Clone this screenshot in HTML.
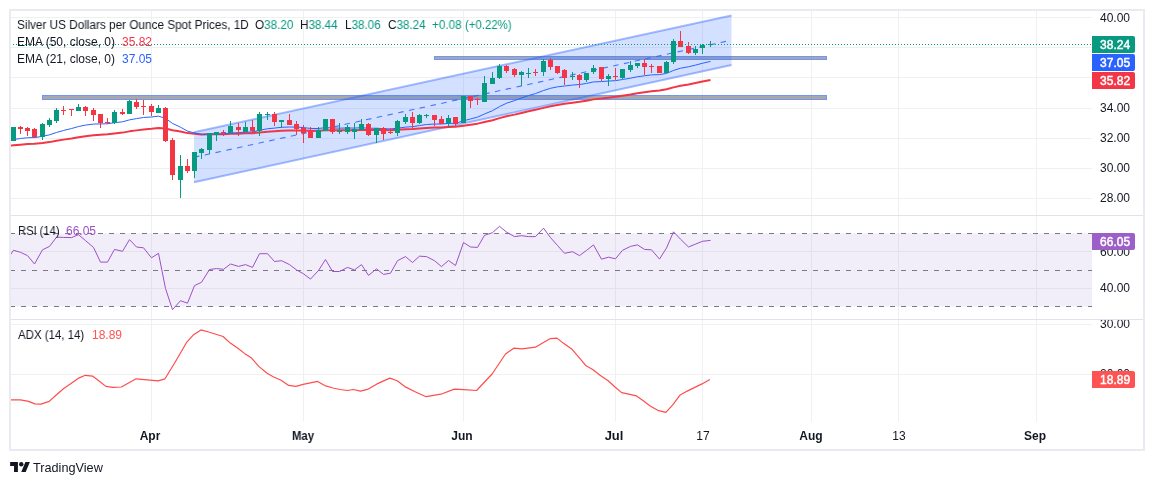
<!DOCTYPE html>
<html><head><meta charset="utf-8">
<style>
html,body{margin:0;padding:0;background:#fff;width:1154px;height:485px;overflow:hidden;}
body{position:relative;-webkit-font-smoothing:antialiased;font-family:"Liberation Sans",sans-serif;color:#131722;}
svg{position:absolute;left:0;top:0;}
.t{position:absolute;will-change:transform;white-space:nowrap;font-size:12px;line-height:14px;}
.ax{position:absolute;will-change:transform;white-space:nowrap;font-size:12px;line-height:14px;left:1100px;}
.lb{position:absolute;will-change:transform;left:1092px;width:42.5px;color:#fff;font-weight:normal;-webkit-text-stroke:0.45px #fff;font-size:12px;text-align:right;}
.tm{position:absolute;will-change:transform;top:429px;font-size:12px;line-height:14px;white-space:nowrap;transform:translateX(-50%);}
</style></head><body>
<svg width="1154" height="485" viewBox="0 0 1154 485">
<path d="M151.5 10V421.5 M303.5 10V421.5 M463.5 10V421.5 M615.5 10V421.5 M702.5 10V421.5 M811.5 10V421.5 M898.5 10V421.5 M1036.5 10V421.5 M10 17.5H1092 M10 47.5H1092 M10 77.5H1092 M10 108.5H1092 M10 138.5H1092 M10 168.5H1092 M10 198.5H1092 M10 251.5H1092 M10 288.5H1092 M10 324.5H1092 M10 374.5H1092" stroke="#eff1f1" stroke-width="1" fill="none"/>
<rect x="10" y="233.5" width="1082" height="73" fill="#7e57c2" fill-opacity="0.1"/>
<path d="M10 233.5H1092" stroke="#787b86" stroke-width="1" stroke-dasharray="5 6"/>
<path d="M10 270.5H1092" stroke="#787b86" stroke-width="1" stroke-dasharray="5 6"/>
<path d="M10 306.5H1092" stroke="#787b86" stroke-width="1" stroke-dasharray="5 6"/>
<path d="M10 215.5H1144M10 319.5H1144" stroke="#e0e3eb" stroke-width="1"/>
<defs><clipPath id="cp"><rect x="10" y="10" width="1082" height="205"/></clipPath><clipPath id="cr"><rect x="10" y="216" width="1082" height="103"/></clipPath><clipPath id="ca"><rect x="10" y="320" width="1082" height="101"/></clipPath></defs>
<g clip-path="url(#cp)">
<rect x="434.5" y="56.5" width="392" height="3" fill="#747269" fill-opacity="0.62" stroke="#6f95ff" stroke-width="1"/>
<rect x="42.5" y="95.5" width="784" height="4" fill="#747269" fill-opacity="0.62" stroke="#6f95ff" stroke-width="1"/>
<path d="M194 132.3L731.5 15.4L731.5 64.9L194 182.3Z" fill="#2962ff" fill-opacity="0.2"/>
<path d="M194 132.3L731.5 15.4M194 182.3L731.5 64.9" stroke="#2962ff" stroke-opacity="0.42" stroke-width="2" fill="none"/>
<path d="M194 157.3L726 41.34874418604652" stroke="#2962ff" stroke-opacity="0.85" stroke-width="1.1" stroke-dasharray="5.5 5.5" fill="none"/>
<polyline points="5.5,146 13.5,145.34 20.5,144.68 27.5,144.11 34.5,143.81 42.5,143.02 49.5,142.11 56.5,140.82 63.5,139.63 71.5,138.44 78.5,137.2 85.5,136.15 93.5,135.29 100.5,134.78 107.5,134.31 114.5,133.41 122.5,132.62 129.5,131.36 136.5,130.37 143.5,129.44 151.5,128.75 158.5,127.93 165.5,128.42 172.5,130.21 180.5,131.6 187.5,133.11 194.5,133.83 201.5,134.4 209.5,134.32 216.5,134.23 223.5,134.18 230.5,133.84 238.5,133.65 245.5,133.37 252.5,133.26 259.5,132.48 267.5,131.74 274.5,131.34 281.5,130.87 289.5,130.61 296.5,130.52 303.5,130.59 310.5,130.85 318.5,130.8 325.5,130.32 332.5,130.35 339.5,130.35 347.5,130.21 354.5,130.16 361.5,129.9 368.5,130.09 376.5,130 383.5,130.12 390.5,130.19 397.5,129.81 405.5,129.3 412.5,129.02 419.5,128.45 426.5,127.9 434.5,127.56 441.5,127.4 448.5,127.01 455.5,126.86 463.5,125.64 470.5,124.64 477.5,123.64 484.5,122.03 492.5,120.29 499.5,118.15 506.5,116.27 514.5,114.62 521.5,112.93 528.5,111.35 535.5,109.83 543.5,107.89 550.5,106.26 557.5,104.92 564.5,103.86 572.5,102.75 579.5,101.83 586.5,100.68 593.5,99.37 601.5,98.55 608.5,97.64 615.5,96.82 622.5,95.71 630.5,94.49 637.5,93.24 644.5,92.18 651.5,91.17 659.5,90.42 666.5,89.29 673.5,87.38 680.5,85.77 688.5,84.45 695.5,83.06 702.5,81.54 710.5,80.05" fill="none" stroke="#f23645" stroke-width="2" stroke-linejoin="round"/>
<polyline points="5.5,140.51 13.5,139.5 20.5,138.49 27.5,137.74 34.5,137.62 42.5,136.32 49.5,134.81 56.5,132.48 63.5,130.48 71.5,128.54 78.5,126.56 85.5,125.07 93.5,124.08 100.5,123.91 107.5,123.79 114.5,122.66 122.5,121.8 129.5,119.85 136.5,118.6 143.5,117.49 151.5,116.98 158.5,116.14 165.5,118.33 172.5,123.4 180.5,127.21 187.5,131.11 194.5,132.97 201.5,134.35 209.5,134.16 216.5,133.95 223.5,133.85 230.5,133.1 238.5,132.71 245.5,132.14 252.5,131.97 259.5,130.28 267.5,128.75 274.5,128.08 281.5,127.29 289.5,127.01 296.5,127.11 303.5,127.57 310.5,128.44 318.5,128.53 325.5,127.62 332.5,127.93 339.5,128.15 347.5,128.01 354.5,128.08 361.5,127.66 368.5,128.29 376.5,128.23 383.5,128.66 390.5,128.95 397.5,128.17 405.5,127.13 412.5,126.68 419.5,125.55 426.5,124.53 434.5,124.05 441.5,123.99 448.5,123.39 455.5,123.36 463.5,120.83 470.5,118.95 477.5,117.13 484.5,113.98 492.5,110.67 499.5,106.58 506.5,103.25 514.5,100.6 521.5,97.95 528.5,95.64 535.5,93.55 543.5,90.52 550.5,88.3 557.5,86.83 564.5,86.01 572.5,85.05 579.5,84.51 586.5,83.41 593.5,81.93 601.5,81.6 608.5,81.04 615.5,80.63 622.5,79.52 630.5,78.16 637.5,76.74 644.5,75.78 651.5,74.91 659.5,74.64 666.5,73.45 673.5,70.44 680.5,68.24 688.5,66.78 695.5,65.14 702.5,63.25 710.5,61.45" fill="none" stroke="#2962ff" stroke-width="1" stroke-linejoin="round"/>
<path d="M13.5 127V141 M42.5 123V140 M49.5 118V127 M56.5 108V123 M78.5 104V111 M114.5 110V124 M129.5 100V114 M158.5 105V113 M180.5 155V198 M194.5 152V178 M201.5 148V159 M209.5 133V154 M216.5 132V141 M230.5 121V133 M245.5 122V132 M259.5 112V136 M267.5 112V120 M281.5 120V128 M318.5 127V138 M325.5 119V131 M339.5 123V134 M347.5 125V134 M354.5 123V139 M361.5 119V130 M376.5 128V143 M397.5 120V136 M405.5 114V124 M419.5 114V124 M426.5 114V118 M448.5 115V127 M463.5 96V123 M484.5 76V102 M492.5 72V84 M499.5 64V79 M521.5 71V86 M528.5 68V78 M543.5 59V76 M572.5 72V80 M586.5 73V82 M593.5 65V74 M608.5 74V86 M622.5 69V79 M630.5 61V72 M637.5 63V68 M666.5 61V73 M673.5 39V64 M695.5 46V55 M702.5 44V54 M710.5 41V47" stroke="#089981" stroke-width="1"/>
<path d="M11 127h5v14h-5Z M40 124h5v13h-5Z M47 120h5v5h-5Z M54 110h5v11h-5Z M76 107h5v4h-5Z M112 112h5v11h-5Z M127 101h5v13h-5Z M156 108h5v5h-5Z M178 166h5v14h-5Z M192 152h5v19h-5Z M199 149h5v4h-5Z M207 133h5v17h-5Z M214 132h5v3h-5Z M228 126h5v7h-5Z M243 127h5v5h-5Z M257 114h5v17h-5Z M265 114h5v1h-5Z M279 120h5v2h-5Z M316 130h5v8h-5Z M323 119h5v12h-5Z M337 131h5v1h-5Z M345 127h5v5h-5Z M352 129h5v3h-5Z M359 124h5v6h-5Z M374 128h5v7h-5Z M395 121h5v12h-5Z M403 117h5v5h-5Z M417 115h5v8h-5Z M424 115h5v1h-5Z M446 118h5v5h-5Z M461 96h5v27h-5Z M482 83h5v19h-5Z M490 78h5v6h-5Z M497 66h5v12h-5Z M519 72h5v3h-5Z M526 73h5v1h-5Z M541 61h5v11h-5Z M570 76h5v1h-5Z M584 73h5v7h-5Z M591 68h5v4h-5Z M606 76h5v3h-5Z M620 69h5v9h-5Z M628 65h5v5h-5Z M635 63h5v3h-5Z M664 62h5v11h-5Z M671 41h5v21h-5Z M693 49h5v4h-5Z M700 45h5v3h-5Z M708 44h5v1h-5Z" fill="#089981"/>
<path d="M20.5 126V134 M27.5 127V136 M34.5 128V138 M63.5 106V115 M71.5 109V116 M85.5 106V116 M93.5 108V121 M100.5 114V128 M107.5 118V124 M122.5 109V115 M136.5 99V109 M143.5 100V115 M151.5 104V116 M165.5 107V142 M172.5 138V180 M187.5 159V173 M223.5 130V136 M238.5 123V136 M252.5 120V133 M274.5 112V126 M289.5 114V125 M296.5 121V135 M303.5 125V143 M310.5 127V138 M332.5 119V134 M368.5 123V136 M383.5 127V140 M390.5 128V134 M412.5 112V128 M434.5 115V126 M441.5 116V124 M455.5 117V126 M470.5 96V108 M477.5 98V105 M506.5 65V73 M514.5 68V77 M535.5 69V76 M550.5 58V70 M557.5 66V74 M564.5 69V85 M579.5 74V88 M601.5 67V81 M615.5 68V80 M644.5 59V75 M651.5 64V73 M659.5 66V73 M680.5 31V47 M688.5 42V54" stroke="#f23645" stroke-width="1"/>
<path d="M18 127h5v2h-5Z M25 128h5v3h-5Z M32 129h5v8h-5Z M61 110h5v1h-5Z M69 109h5v1h-5Z M83 107h5v4h-5Z M91 110h5v5h-5Z M98 114h5v9h-5Z M105 122h5v1h-5Z M120 112h5v2h-5Z M134 102h5v5h-5Z M141 106h5v1h-5Z M149 106h5v6h-5Z M163 108h5v33h-5Z M170 140h5v35h-5Z M185 166h5v5h-5Z M221 132h5v1h-5Z M236 127h5v3h-5Z M250 127h5v4h-5Z M272 114h5v8h-5Z M287 120h5v5h-5Z M294 124h5v5h-5Z M301 128h5v5h-5Z M308 130h5v8h-5Z M330 119h5v13h-5Z M366 124h5v11h-5Z M381 128h5v6h-5Z M388 132h5v1h-5Z M410 117h5v6h-5Z M432 115h5v5h-5Z M439 119h5v5h-5Z M453 117h5v7h-5Z M468 96h5v5h-5Z M475 99h5v1h-5Z M504 66h5v5h-5Z M512 69h5v6h-5Z M533 72h5v1h-5Z M548 60h5v7h-5Z M555 66h5v7h-5Z M562 70h5v8h-5Z M577 75h5v5h-5Z M599 67h5v12h-5Z M613 76h5v1h-5Z M642 63h5v4h-5Z M649 66h5v1h-5Z M657 66h5v7h-5Z M678 41h5v6h-5Z M686 46h5v7h-5Z" fill="#f23645"/>
<path d="M10 44.5H1092" stroke="#089981" stroke-width="1" stroke-dasharray="1 2"/>
</g>
<g clip-path="url(#cr)">
<polyline points="5.5,262 13.5,250.3 20.5,252.3 27.5,255.6 34.5,264 42.5,249.8 49.5,246.4 56.5,237.2 63.5,237.4 71.5,237.6 78.5,234.7 85.5,240.6 93.5,247.4 100.5,262.1 107.5,262.1 114.5,249.4 122.5,251.3 129.5,239.6 136.5,247 143.5,247.8 151.5,257.8 158.5,253.3 165.5,288.5 172.5,309.7 180.5,300.7 187.5,303.2 194.5,285.6 201.5,282.3 209.5,269.5 216.5,268.6 223.5,269.3 230.5,264 238.5,266.4 245.5,264.6 252.5,267.4 259.5,253.7 267.5,253.7 274.5,261.5 281.5,260.7 289.5,264.6 296.5,269.9 303.5,273.8 310.5,279.1 318.5,270.5 325.5,259.5 332.5,271.5 339.5,271.5 347.5,267.4 354.5,269.9 361.5,264.6 368.5,275.4 376.5,268.9 383.5,274.4 390.5,273.2 397.5,260.7 405.5,256.6 412.5,262.5 419.5,256.2 426.5,256.6 434.5,260.7 441.5,266.6 448.5,260.5 455.5,265.5 463.5,242.5 470.5,247 477.5,247.4 484.5,235.3 492.5,232.7 499.5,226.3 506.5,232.1 514.5,236.6 521.5,235.7 528.5,236.6 535.5,236.6 543.5,228.2 550.5,237.6 557.5,245.5 564.5,253.3 572.5,251.7 579.5,255.6 586.5,250.4 593.5,244.9 601.5,259.2 608.5,257.2 615.5,258.8 622.5,250.3 630.5,246.4 637.5,244.9 644.5,249.4 651.5,249.8 659.5,259.1 666.5,248 673.5,231.8 680.5,239.2 688.5,247 695.5,244.1 702.5,241.3 710.5,240.4" fill="none" stroke="#9c50c8" stroke-width="1" stroke-linejoin="round"/>
</g>
<g clip-path="url(#ca)">
<polyline points="6,399.8 10,399.8 20.4,399.8 28.6,401.4 34.8,403.9 41,404.1 49.2,401.4 55.4,395.7 63.7,388.5 69.9,384.3 78.1,378.4 85.3,375.3 92.5,376.1 98.7,380.8 105.9,386.4 113.2,387.4 121.4,387 127.6,383.5 136.1,378.8 158.1,380.8 165,378.8 175.7,361.2 186.4,342.7 193.2,335.1 201,329.9 208.7,332 223.1,336.5 230.3,343.1 238.2,348.5 244.4,353.4 251.6,358.1 258.8,366.4 267.1,373.2 273.2,376.7 281.1,380.2 288.7,385.4 295.9,386.4 303.1,384.3 310.4,382.9 317.6,381.4 324.8,385.6 333,388 340.2,389.5 347.5,390.5 353.3,389.5 360.5,391.1 368.3,389.1 377,383.9 389.8,378.1 397.2,380.8 404.8,386.6 415.1,391.8 426.1,396.7 440.9,394.2 454.3,389.1 464,389.7 476.6,390.5 492.1,374 505.5,354 513.7,348.2 522,348.9 535.4,347.2 542.6,343.1 550.4,338.6 557,338.1 563.2,343.1 572.1,349.3 578.3,356.7 586.1,365.8 592.7,369.5 600,375.3 608.2,380.8 615,387 621.6,392.6 628.8,394.2 636.5,395.9 643.3,400.8 650.5,406.2 658.7,410.7 665.9,412.4 672.7,404.9 679.8,395.3 687.2,391.1 694.8,387.4 702,383.9 709.9,379.4" fill="none" stroke="#ff4d4d" stroke-width="1.2" stroke-linejoin="round"/>
</g>
<rect x="10" y="10" width="1134" height="440" fill="none" stroke="#e9ebf0" stroke-width="2"/>
</svg>
<!-- legends -->
<div class="t" style="left:17px;top:18px;transform:scaleX(0.979);transform-origin:0 0">Silver US Dollars per Ounce Spot Prices, 1D</div>
<div class="t" style="left:254.5px;top:18px;transform:scaleX(0.975);transform-origin:0 0">O<span style="color:#089981">38.20</span></div>
<div class="t" style="left:299.5px;top:18px;transform:scaleX(0.975);transform-origin:0 0">H<span style="color:#089981">38.44</span></div>
<div class="t" style="left:344.5px;top:18px;transform:scaleX(0.975);transform-origin:0 0">L<span style="color:#089981">38.06</span></div>
<div class="t" style="left:387.5px;top:18px;transform:scaleX(0.975);transform-origin:0 0">C<span style="color:#089981">38.24</span></div>
<div class="t" style="left:431.5px;top:18px;color:#089981;transform:scaleX(0.975);transform-origin:0 0">+0.08</div>
<div class="t" style="left:464.5px;top:18px;color:#089981;transform:scaleX(0.95);transform-origin:0 0">(+0.22%)</div>
<div class="t" style="left:17px;top:35px">EMA (50, close, 0)</div>
<div class="t" style="left:122px;top:35px;color:#f23645">35.82</div>
<div class="t" style="left:17px;top:52px">EMA (21, close, 0)</div>
<div class="t" style="left:121.5px;top:52px;color:#2962ff">37.05</div>
<div class="t" style="left:17.5px;top:224px;transform:scaleX(0.93);transform-origin:0 0">RSI (14)</div>
<div class="t" style="left:66px;top:224px;color:#9c50c8">66.05</div>
<div class="t" style="left:18px;top:328px;transform:scaleX(0.955);transform-origin:0 0">ADX (14, 14)</div>
<div class="t" style="left:91.5px;top:328px;color:#ff5252">18.89</div>
<!-- axis -->
<div class="ax" style="top:11px">40.00</div>
<div class="ax" style="top:101px">34.00</div>
<div class="ax" style="top:131px">32.00</div>
<div class="ax" style="top:161px">30.00</div>
<div class="ax" style="top:191px">28.00</div>
<div class="ax" style="top:244.8px">60.00</div>
<div class="ax" style="top:281.3px">40.00</div>
<div style="position:absolute;left:1092px;top:320px;width:52px;height:101px;overflow:hidden"><div class="ax" style="top:-3px;left:8px">30.00</div><div class="ax" style="top:47px;left:8px">20.00</div></div>
<div class="tm" style="left:150.3px;font-weight:bold">Apr</div>
<div class="tm" style="left:302.5px;font-weight:bold;transform:translateX(-50%) scaleX(0.94)">May</div>
<div class="tm" style="left:462.1px;font-weight:bold">Jun</div>
<div class="tm" style="left:614.3px;font-weight:bold;transform:translateX(-50%) scaleX(1.08)">Jul</div>
<div class="tm" style="left:702.5px">17</div>
<div class="tm" style="left:811.2px;font-weight:bold">Aug</div>
<div class="tm" style="left:898.5px">13</div>
<div class="tm" style="left:1035.3px;font-weight:bold">Sep</div>
<!-- price labels -->
<div class="lb" style="top:36px;height:16.5px;background:#089981;border-radius:0 2px 2px 0"><span style="position:absolute;right:4.4px;top:1.5px">38.24</span></div>
<div class="lb" style="top:54px;height:16.5px;background:#2962ff;border-radius:0 2px 2px 0"><span style="position:absolute;right:4.4px;top:1.5px">37.05</span></div>
<div class="lb" style="top:72px;height:16.5px;background:#f23645;border-radius:0 2px 2px 0"><span style="position:absolute;right:4.4px;top:1.5px">35.82</span></div>
<div class="lb" style="top:233px;height:16.5px;background:#9c5fc8;border-radius:0 2px 2px 0"><span style="position:absolute;right:4.4px;top:1.5px">66.05</span></div>
<div class="lb" style="top:371px;height:16.5px;background:#ff5252;border-radius:0 2px 2px 0"><span style="position:absolute;right:4.4px;top:1.5px">18.89</span></div>
<!-- logo -->
<svg width="20" height="10" viewBox="0 4 35.5 18" style="left:10px;top:462px"><path d="M14 22H7V11H0V4h14v18zM28 22h-8l7.5-18h8L28 22z" fill="#131722"/><circle cx="20" cy="8" r="4" fill="#131722"/></svg>
<div class="t" style="left:33px;top:460.7px;font-size:12.7px">TradingView</div>
</body></html>
